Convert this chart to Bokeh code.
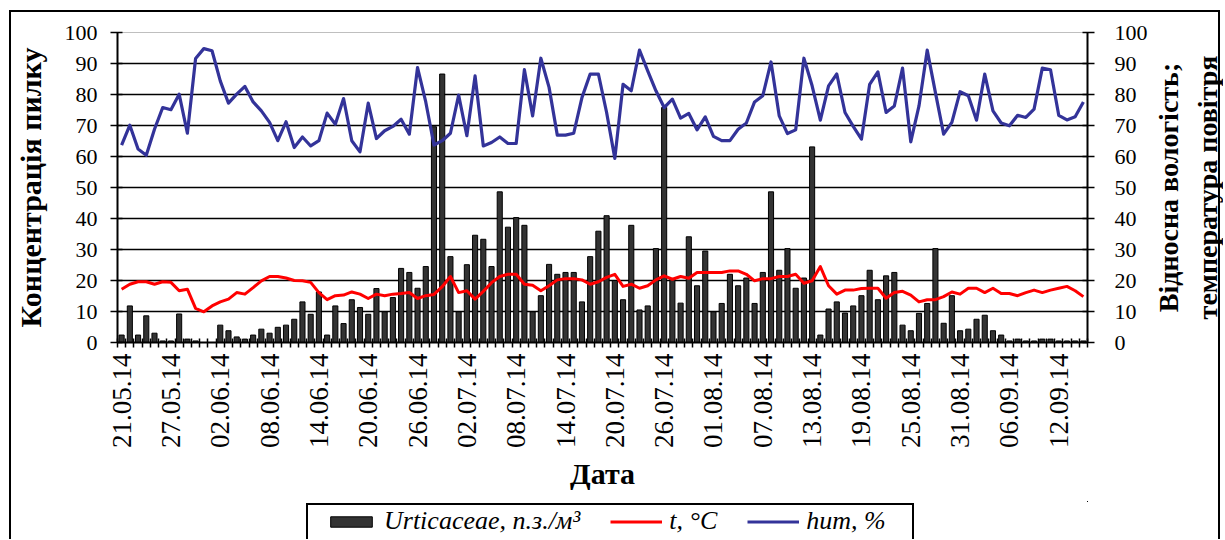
from math import pi
import pandas as pd
from bokeh.plotting import figure
from bokeh.layouts import column, row
from bokeh.models import (Range1d, LinearAxis, FixedTicker, Legend, LegendItem,
                          ColumnDataSource)
from bokeh.embed import file_html
from bokeh.resources import INLINE

# ---- data -------------------------------------------------------------
dates = [(pd.Timestamp("2014-05-21") + pd.Timedelta(days=k)).strftime("%d.%m.%y")
         for k in range(118)]

pollen = [2.4, 11.8, 2.4, 8.6, 3.0, 0.5, 0.5, 9.2, 1.1, 0.5, 0, 0, 5.6, 3.8, 1.8, 1.1,
          2.4, 4.3, 3.0, 4.9, 5.6, 7.5, 13.1, 9.1, 16.3, 2.4, 11.8, 6.1, 13.8, 11.3,
          9.1, 17.4, 9.9, 14.5, 23.9, 22.6, 17.5, 24.5, 69.6, 86.6, 27.7, 9.9, 25.1,
          34.6, 33.3, 24.5, 48.6, 37.2, 40.3, 37.8, 9.9, 15.1, 25.2, 22.0, 22.6, 22.6,
          13.1, 27.7, 35.9, 40.9, 20.0, 13.8, 37.8, 10.5, 11.8, 30.3, 75.8, 20.5, 12.7,
          34.1, 18.3, 29.5, 9.9, 12.6, 22.0, 18.3, 20.8, 12.6, 22.6, 48.6, 23.3, 30.3,
          17.5, 20.8, 63.1, 2.4, 10.8, 13.1, 9.5, 11.8, 15.1, 23.3, 13.8, 21.5, 22.6,
          5.6, 3.8, 9.4, 12.6, 30.3, 6.2, 15.1, 3.8, 4.3, 7.5, 8.8, 3.8, 2.4, 0.5, 1.1,
          0.5, 0.5, 1.1, 1.1, 0.5, 0.5, 0.5, 0.5]

temp = [17.2, 18.8, 19.6, 19.6, 18.8, 19.6, 19.4, 16.7, 17.2, 11.0, 9.9, 11.8, 13.1,
        14.0, 16.1, 15.6, 17.7, 19.9, 21.3, 21.3, 20.8, 20.0, 19.9, 19.4, 16.1, 13.8,
        15.1, 15.3, 16.3, 15.6, 14.2, 15.6, 15.1, 15.6, 15.8, 16.1, 14.2, 15.1, 15.5,
        18.0, 21.3, 16.1, 16.7, 14.0, 16.5, 19.3, 21.3, 22.0, 22.0, 18.8, 18.5, 16.7,
        18.3, 20.2, 20.6, 20.6, 20.2, 18.8, 19.6, 21.0, 22.0, 18.1, 18.8, 17.5, 18.3,
        20.2, 21.5, 20.4, 21.3, 20.7, 22.6, 22.6, 22.6, 22.6, 23.1, 23.1, 22.0, 19.9,
        20.6, 20.6, 21.3, 21.3, 22.0, 19.1, 19.9, 24.5, 18.3, 15.6, 16.9, 16.9, 17.4,
        17.5, 17.5, 14.3, 16.1, 16.5, 15.3, 13.1, 13.8, 13.8, 14.8, 16.3, 15.6, 17.5,
        17.5, 16.1, 17.5, 15.8, 15.8, 15.1, 16.1, 16.9, 16.1, 16.9, 17.5, 18.1, 16.7,
        14.8]

hum = [63.7, 70.1, 62.4, 60.4, 68.8, 75.8, 75.1, 80.1, 67.5, 91.6, 94.8, 94.1, 84.4,
       77.2, 80.1, 82.6, 77.6, 74.7, 71.0, 65.1, 71.2, 62.9, 66.3, 63.4, 65.1, 74.0,
       70.4, 78.7, 65.1, 61.5, 77.2, 65.8, 68.3, 69.7, 72.0, 67.2, 88.7, 77.6, 63.7,
       65.1, 67.5, 79.8, 66.7, 86.0, 63.4, 64.5, 66.3, 64.2, 64.2, 88.0, 73.1, 91.7,
       82.3, 66.9, 66.9, 67.5, 79.0, 86.6, 86.6, 74.2, 59.4, 83.3, 81.2, 94.3, 87.6,
       81.2, 75.8, 78.5, 72.4, 73.9, 68.6, 72.8, 66.5, 65.1, 65.1, 68.8, 70.8, 77.6,
       79.6, 90.5, 73.1, 67.4, 68.6, 91.7, 82.8, 71.7, 82.8, 86.6, 74.2, 69.7, 65.6,
       83.3, 87.3, 74.2, 76.3, 88.5, 64.7, 76.3, 94.3, 80.6, 67.2, 71.0, 80.9, 79.6,
       71.7, 86.6, 74.7, 70.8, 69.9, 73.3, 72.6, 75.3, 88.5, 88.0, 73.3, 71.8, 72.8,
       77.6]

label_step = 6
y_ticks = list(range(0, 101, 10))

day = list(range(len(dates)))
src = ColumnDataSource(dict(day=day, date=dates, pollen=pollen, temp=temp, hum=hum))

FONT = "Liberation Serif"
W_MAIN = 1150
W_SIDE = 72
H_MAIN = 501
H_LEG = 38
BAR_STYLE = dict(fill_color="#333333", line_color="black", line_width=1)
T_STYLE = dict(line_color="#ff0000", line_width=3, line_join="round")
H_STYLE = dict(line_color="#333399", line_width=3.2, line_join="round")

# ---- main figure --------------------------------------------------------
p = figure(width=W_MAIN, height=H_MAIN, output_backend="svg", toolbar_location=None,
           x_range=Range1d(-0.5, len(dates) - 0.5), y_range=Range1d(0, 100),
           min_border_left=117, min_border_right=W_MAIN - 1089, min_border_top=32,
           min_border_bottom=H_MAIN - 342)
p.extra_y_ranges = {"right": Range1d(0, 100)}
p.background_fill_color = "white"
p.border_fill_alpha = 0
p.outline_line_color = "#bfbfbf"
p.outline_line_width = 1

p.vbar(x="day", top="pollen", bottom=0, width=0.62, source=src, **BAR_STYLE)
p.line("day", "temp", source=src, y_range_name="right", **T_STYLE)
p.line("day", "hum", source=src, y_range_name="right", **H_STYLE)

p.xgrid.visible = False
p.ygrid.ticker = FixedTicker(ticks=y_ticks[1:-1])
p.ygrid.grid_line_color = "black"
p.ygrid.grid_line_width = 1.6


def style_axis(ax, size):
    ax.major_label_text_font = FONT
    ax.major_label_text_font_size = size
    ax.major_label_text_color = "black"
    ax.axis_line_color = "black"
    ax.axis_line_width = 2
    ax.axis_label_text_font = FONT
    ax.axis_label_text_font_style = "bold"
    ax.axis_label_text_color = "black"


# x axis
xa = p.xaxis[0]
style_axis(xa, "27px")
major = day[::label_step]
xa.ticker = FixedTicker(ticks=major,
                        minor_ticks=[d - 0.5 for d in day] + [day[-1] + 0.5])
xa.major_label_overrides = {d: dates[d] for d in major}
xa.major_label_orientation = pi / 2
xa.major_tick_in = 0
xa.major_tick_out = 0
xa.minor_tick_in = 4
xa.minor_tick_out = 5
xa.minor_tick_line_color = "black"
xa.minor_tick_line_width = 1.5
xa.major_label_standoff = 6
xa.axis_label = "Дата"
xa.axis_label_standoff = 6
xa.axis_label_text_font_size = "30px"

# left axis
ya = p.yaxis[0]
style_axis(ya, "22px")
ya.ticker = FixedTicker(ticks=y_ticks)
ya.major_tick_in = 5
ya.major_tick_out = 7
ya.minor_tick_line_color = None
ya.major_tick_line_color = "black"
ya.major_tick_line_width = 1.5
ya.major_label_standoff = 13
ya.axis_label = "Концентрація пилку"
ya.axis_label_standoff = 15
ya.axis_label_text_font_size = "30px"

# right axis: ticks only
ra = LinearAxis(y_range_name="right", ticker=FixedTicker(ticks=y_ticks))
style_axis(ra, "22px")
ra.major_tick_in = 5
ra.major_tick_out = 7
ra.minor_tick_line_color = None
ra.major_tick_line_color = "black"
ra.major_tick_line_width = 1.5
ra.major_label_standoff = 20
p.add_layout(ra, "right")

# ---- right title strip (two left-side axis labels, read bottom-to-top) --
ps = figure(width=W_SIDE, height=H_MAIN + H_LEG, output_backend="svg",
            toolbar_location=None, x_axis_location=None, y_axis_location=None,
            x_range=Range1d(0, 1), y_range=Range1d(0, 100),
            min_border_left=W_SIDE - 1, min_border_right=0, min_border_top=32,
            min_border_bottom=H_MAIN + H_LEG - 342)
ps.grid.visible = False
ps.outline_line_color = None
ps.background_fill_alpha = 0
ps.border_fill_alpha = 0


def title_axis(text, standoff):
    ax = LinearAxis(ticker=FixedTicker(ticks=[]))
    style_axis(ax, "22px")
    ax.axis_line_color = None
    ax.major_tick_in = 0
    ax.major_tick_out = 0
    ax.minor_tick_line_color = None
    ax.major_label_standoff = 0
    ax.axis_label = text
    ax.axis_label_standoff = standoff
    ax.axis_label_text_font_size = "28px"
    ps.add_layout(ax, "left")


title_axis("температура повітря", 0)
title_axis("Відносна вологість;", 5)

# ---- legend strip -------------------------------------------------------
p2 = figure(width=W_MAIN, height=H_LEG, output_backend="svg", toolbar_location=None,
            x_axis_location=None, y_axis_location=None,
            x_range=Range1d(-1000, -999), y_range=Range1d(-1000, -999), min_border=0)
p2.grid.visible = False
p2.outline_line_color = None
p2.background_fill_alpha = 0
p2.border_fill_alpha = 0
lb = p2.vbar(x="day", top="pollen", width=0.62, source=src, **BAR_STYLE)
lt = p2.line("day", "temp", source=src, **T_STYLE)
lh = p2.line("day", "hum", source=src, **H_STYLE)

legend = Legend(items=[LegendItem(label="Urticaceae, п.з./м³", renderers=[lb]),
                       LegendItem(label="t, °C", renderers=[lt]),
                       LegendItem(label="hum, %", renderers=[lh])],
                orientation="horizontal", location=(208, 3),
                border_line_alpha=0, background_fill_alpha=0,
                label_text_font=FONT, label_text_font_style="italic",
                label_text_font_size="26px", label_text_color="black",
                glyph_width=52, glyph_height=13, label_standoff=7,
                spacing=30, padding=0, margin=0)
p2.add_layout(legend, "center")

# outer chart border + legend box drawn behind transparent canvas borders
lines = [
    "linear-gradient(#000,#000) 9px 10px / 2px 600px no-repeat",
    "linear-gradient(#000,#000) 9px 10px / 1211px 2px no-repeat",
    "linear-gradient(#000,#000) 1218px 10px / 2px 600px no-repeat",
    "linear-gradient(#000,#000) 306px 503px / 608px 2px no-repeat",
    "linear-gradient(#000,#000) 306px 503px / 2px 60px no-repeat",
    "linear-gradient(#000,#000) 912px 503px / 2px 60px no-repeat",
]
layout = row(column(p, p2, spacing=0), ps, spacing=0,
             styles={"background": ", ".join(lines) + ", #ffffff"})

open("out.html", "w").write(file_html(layout, INLINE))
